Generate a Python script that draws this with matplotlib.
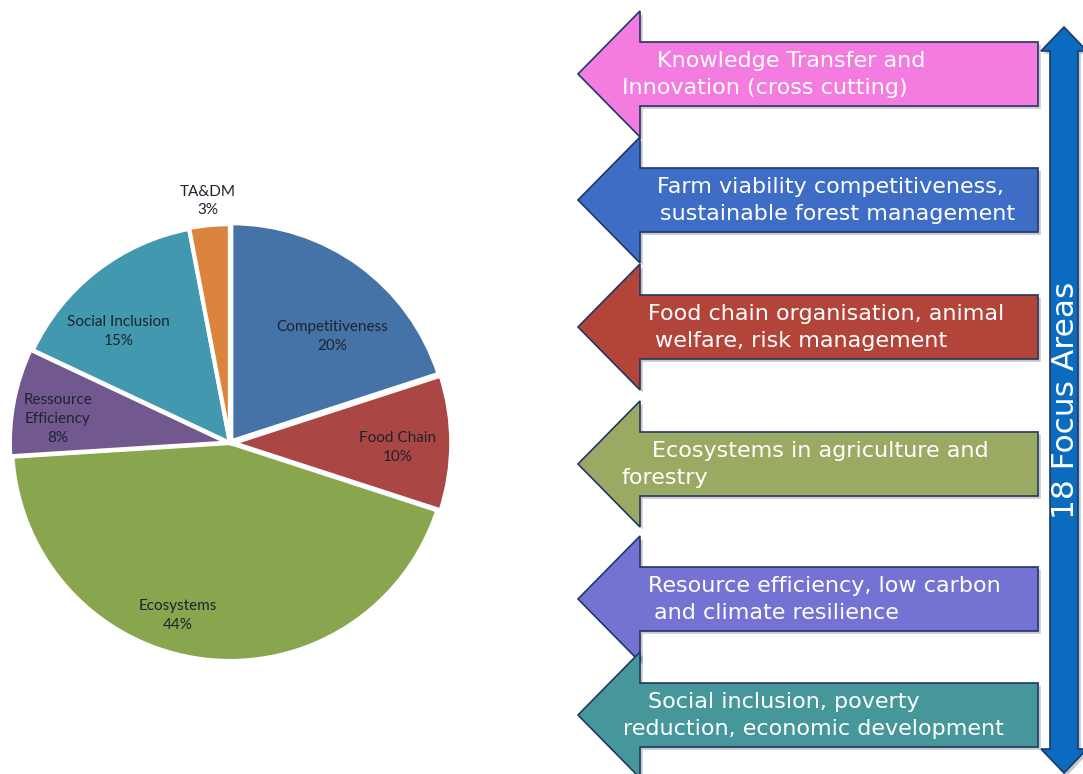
import matplotlib
matplotlib.use("Agg")
import matplotlib.pyplot as plt
from matplotlib.patches import FancyArrow, Polygon
import matplotlib.patheffects as pe

# --- data -------------------------------------------------------------
categories = ["Competitiveness", "Food Chain", "Ecosystems",
              "Ressource\nEfficiency", "Social Inclusion", "TA&DM"]
shares = [20, 10, 44, 8, 15, 3]
slice_colors = ["#4572A7", "#AA4643", "#89A54E", "#71588F", "#4198AF", "#DB843D"]

priority_lines = [
    ("Knowledge Transfer and", "Innovation (cross cutting)"),
    ("Farm viability competitiveness,", "sustainable forest management"),
    ("Food chain organisation, animal", "welfare, risk management"),
    ("Ecosystems in agriculture and", "forestry"),
    ("Resource efficiency, low carbon", "and climate resilience"),
    ("Social inclusion, poverty", "reduction, economic development"),
]
priority_colors = ["#F47BE0", "#3D6DC4", "#B3443A", "#9BAA62", "#7472D3", "#46979A"]
focus_label = "18 Focus Areas"

W, H = 1083, 774
fig = plt.figure(figsize=(W / 100, H / 100), dpi=100)
fig.patch.set_facecolor("white")

# --- pie ---------------------------------------------------------------
R_PX = 218
CX, CY = 230, 443
half = 230
pax = fig.add_axes([(CX - half) / W, (H - CY - half) / H, 2 * half / W, 2 * half / H])

explode = [0.01, 0.015, 0.0, 0.01, 0.0, 0.004]
wedges, _ = pax.pie(shares, colors=slice_colors, startangle=90, counterclock=False,
                    explode=explode, radius=1.0,
                    wedgeprops=dict(edgecolor="white", linewidth=3))
lim = half / R_PX
pax.set_xlim(-lim, lim)
pax.set_ylim(-lim, lim)
pax.set_aspect("equal")
pax.axis("off")

# label anchors in units of the pie radius
label_xy = [(0.47, 0.49), (0.77, -0.02), (-0.24, -0.79),
            (-0.79, 0.11), (-0.51, 0.51), (-0.10, 1.11)]
for name, val, (lx, ly) in zip(categories, shares, label_xy):
    pax.text(lx, ly, f"{name}\n{val}%", ha="center", va="center",
             fontsize=11, family="Lato", color="#1e2430", linespacing=1.45)

# --- focus-area arrows -------------------------------------------------
ax = fig.add_axes([0, 0, 1, 1])
ax.set_xlim(0, W)
ax.set_ylim(H, 0)
ax.axis("off")

shadow = [pe.SimplePatchShadow(offset=(2, -2), alpha=0.25), pe.Normal()]

body_right, tip_x = 1038, 578
centres = [74, 200, 327, 464, 599, 715]
first_x = [657, 657, 648, 652, 648, 648]
second_x = [622, 660, 655, 621, 654, 623]
for yc, col, (l1, l2), x1, x2 in zip(centres, priority_colors, priority_lines,
                                      first_x, second_x):
    arr = FancyArrow(body_right, yc, tip_x - body_right, 0, width=64,
                     head_width=126, head_length=62, length_includes_head=True,
                     facecolor=col, edgecolor="#1F3864", linewidth=1.2)
    arr.set_path_effects(shadow)
    ax.add_patch(arr)
    ax.text(x1, yc - 13, l1, ha="left", va="center", color="white",
            fontsize=16, family="DejaVu Sans")
    ax.text(x2, yc + 14, l2, ha="left", va="center", color="white",
            fontsize=16, family="DejaVu Sans")

# vertical double-headed arrow
vx, top, bot = 1064, 27, 773
shaft, headw, headl = 28, 46, 24
verts = [
    (vx, top), (vx + headw / 2, top + headl), (vx + shaft / 2, top + headl),
    (vx + shaft / 2, bot - headl), (vx + headw / 2, bot - headl), (vx, bot),
    (vx - headw / 2, bot - headl), (vx - shaft / 2, bot - headl),
    (vx - shaft / 2, top + headl), (vx - headw / 2, top + headl),
]
varr = Polygon(verts, closed=True, facecolor="#0B6CBF", edgecolor="#1F3864", linewidth=1.2)
varr.set_path_effects(shadow)
ax.add_patch(varr)
ax.text(vx + 1, 400, focus_label, rotation=90, ha="center", va="center",
        color="white", fontsize=22.5, family="DejaVu Sans")

fig.savefig("out.png", dpi=100, facecolor="white")
